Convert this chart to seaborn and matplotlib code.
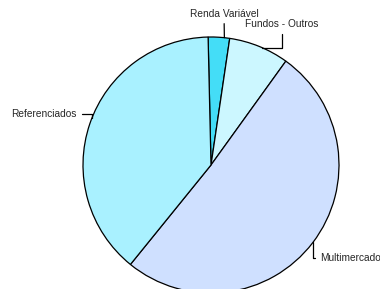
import matplotlib
matplotlib.use("Agg")
import matplotlib.pyplot as plt
import seaborn as sns
import numpy as np

sns.set_style("white")
plt.rcParams['font.family'] = ['Liberation Sans', 'DejaVu Sans']

# data
labels = ['Renda Variável', 'Fundos - Outros', 'Multimercado', 'Referenciados']
values = [2.7, 7.6, 50.9, 38.8]
colors = ['#44DDF7', '#CCF7FF', '#CFE0FF', '#A9F1FF']

fig = plt.figure(figsize=(3.8, 2.89), dpi=100)
ax = fig.add_axes([0, 0, 1, 1])

cx, cy, r = 211, 124, 128
ax.pie(values, colors=colors, startangle=91.3, counterclock=False,
       center=(cx, cy), radius=r,
       wedgeprops=dict(edgecolor='black', linewidth=0.9))
ax.set_xlim(0, 380)
ax.set_ylim(0, 289)
ax.set_aspect('equal')
ax.axis('off')

# label layout: anchor angle on the rim, text position, alignment, connection
anchor_ang = [84, 66.5, -37.2, 158.4]
text_pos = [(224, 275), (282, 265), (320, 31), (77, 175)]
aligns = [('center', 'center'), ('center', 'center'), ('left', 'center'), ('right', 'center')]
conns = ['arc3,rad=0', 'angle,angleA=90,angleB=0,rad=0',
         'angle,angleA=0,angleB=90,rad=0', 'angle,angleA=0,angleB=90,rad=0']

for lab, a, tp, (ha, va), cs in zip(labels, anchor_ang, text_pos, aligns, conns):
    t = np.deg2rad(a)
    xy = (cx + r * np.cos(t), cy + r * np.sin(t))
    ax.annotate(lab, xy=xy, xytext=tp, ha=ha, va=va, fontsize=7.3,
                arrowprops=dict(arrowstyle='-', color='black', lw=0.9,
                                shrinkA=1, shrinkB=0, connectionstyle=cs))

fig.savefig('out.png', dpi=100)
